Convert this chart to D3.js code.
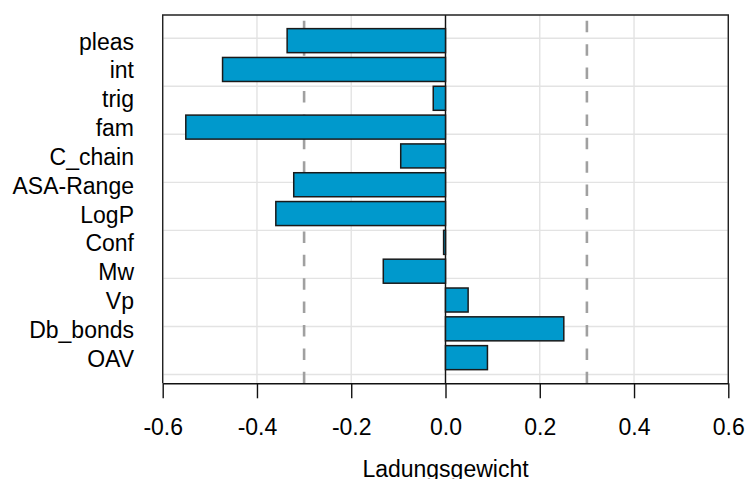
<!DOCTYPE html>
<html>
<head>
<meta charset="utf-8">
<script src="https://cdn.jsdelivr.net/npm/d3@7"></script>
<style>
  body { margin: 0; background: #fff; }
  svg text { font-family: "Liberation Sans", Arial, sans-serif; fill: #000; }
</style>
</head>
<body>
<div id="chart"></div>
<script>
// variables, bottom to top (R barplot order)
var variables = ['OAV', 'Db_bonds', 'Vp', 'Mw', 'Conf', 'LogP', 'ASA-Range', 'C_chain', 'fam', 'trig', 'int', 'pleas'];
var loadings  = [0.089, 0.251, 0.048, -0.132, -0.004, -0.360, -0.322, -0.095, -0.551, -0.026, -0.473, -0.336];
var xTicks = [-0.6, -0.4, -0.2, 0.0, 0.2, 0.4, 0.6];
var yGrid = [0, 2, 4, 6, 8, 10, 12, 14];
var cutoffs = [-0.3, 0.3];
var xTitle = 'Ladungsgewicht';

var width = 747, height = 479;
var box = {l: 162.7, r: 728.3, t: 15, b: 383.3};

var svg = d3.select('#chart').append('svg')
    .attr('width', width)
    .attr('height', height);

var x = d3.scaleLinear().domain([-0.6, 0.6]).range([box.l, box.r]);
// barplot coordinates: width 1, space 0.2, 4% padding
var y = d3.scaleLinear().domain([-0.368, 14.968]).range([box.b, box.t]);
function mid(i) { return 0.7 + 1.2 * i; }

// grid
svg.selectAll('.hgrid')
    .data(yGrid)
    .enter()
    .append('line')
    .attr('class', 'hgrid')
    .attr('x1', box.l).attr('x2', box.r)
    .attr('y1', function(d) { return y(d); })
    .attr('y2', function(d) { return y(d); })
    .attr('stroke', '#e3e3e3')
    .attr('stroke-width', 1.4);

svg.selectAll('.vgrid')
    .data(xTicks)
    .enter()
    .append('line')
    .attr('class', 'vgrid')
    .attr('x1', function(d) { return x(d); })
    .attr('x2', function(d) { return x(d); })
    .attr('y1', box.t).attr('y2', box.b)
    .attr('stroke', '#e3e3e3')
    .attr('stroke-width', 1.4);

// cutoff lines
svg.selectAll('.cut')
    .data(cutoffs)
    .enter()
    .append('line')
    .attr('class', 'cut')
    .attr('x1', function(d) { return x(d); })
    .attr('x2', function(d) { return x(d); })
    .attr('y1', box.b).attr('y2', box.t)
    .attr('stroke', '#a0a0a0')
    .attr('stroke-width', 2.6)
    .attr('stroke-dasharray', '11.5 11.9');

// zero line
svg.append('line')
    .attr('x1', x(0)).attr('x2', x(0))
    .attr('y1', box.t).attr('y2', box.b)
    .attr('stroke', '#111')
    .attr('stroke-width', 1.4);

// bars
svg.selectAll('.bar')
    .data(loadings)
    .enter()
    .append('rect')
    .attr('class', 'bar')
    .attr('x', function(d) { return x(Math.min(0, d)); })
    .attr('width', function(d) { return Math.abs(x(d) - x(0)); })
    .attr('y', function(d, i) { return y(mid(i) + 0.5); })
    .attr('height', function(d, i) { return y(mid(i) - 0.5) - y(mid(i) + 0.5); })
    .attr('fill', '#0099cc')
    .attr('stroke', '#1a1a1a')
    .attr('stroke-width', 1.5);

// frame (top, left, right)
svg.append('path')
    .attr('d', 'M' + box.l + ',' + box.b + 'V' + box.t + 'H' + box.r + 'V' + box.b)
    .attr('fill', 'none')
    .attr('stroke', '#222')
    .attr('stroke-width', 1.4);

// x axis
var xAxis = d3.axisBottom(x)
    .tickValues(xTicks)
    .tickFormat(d3.format('.1f'))
    .tickSize(15)
    .tickSizeOuter(0)
    .tickPadding(6);

var gx = svg.append('g')
    .attr('transform', 'translate(0,' + box.b + ')')
    .call(xAxis);
gx.select('.domain').attr('stroke', '#111').attr('stroke-width', 1.4);
gx.selectAll('.tick line').attr('stroke', '#111').attr('stroke-width', 1.4);
gx.selectAll('.tick text')
    .attr('font-size', 23)
    .attr('font-family', '"Liberation Sans", Arial, sans-serif')
    .attr('fill', '#000')
    .attr('dy', null)
    .attr('y', 52)
    .text(function(d) { return d3.format('.1f')(d).replace('\u2212', '-'); });

// variable labels
svg.selectAll('.lab')
    .data(variables)
    .enter()
    .append('text')
    .attr('class', 'lab')
    .attr('x', 134)
    .attr('y', function(d, i) { return y(mid(i)) + 9; })
    .attr('text-anchor', 'end')
    .attr('font-size', 23)
    .text(function(d) { return d; });

// axis title
svg.append('text')
    .attr('x', x(0))
    .attr('y', 477)
    .attr('text-anchor', 'middle')
    .attr('font-size', 23)
    .text(xTitle);
</script>
</body>
</html>
